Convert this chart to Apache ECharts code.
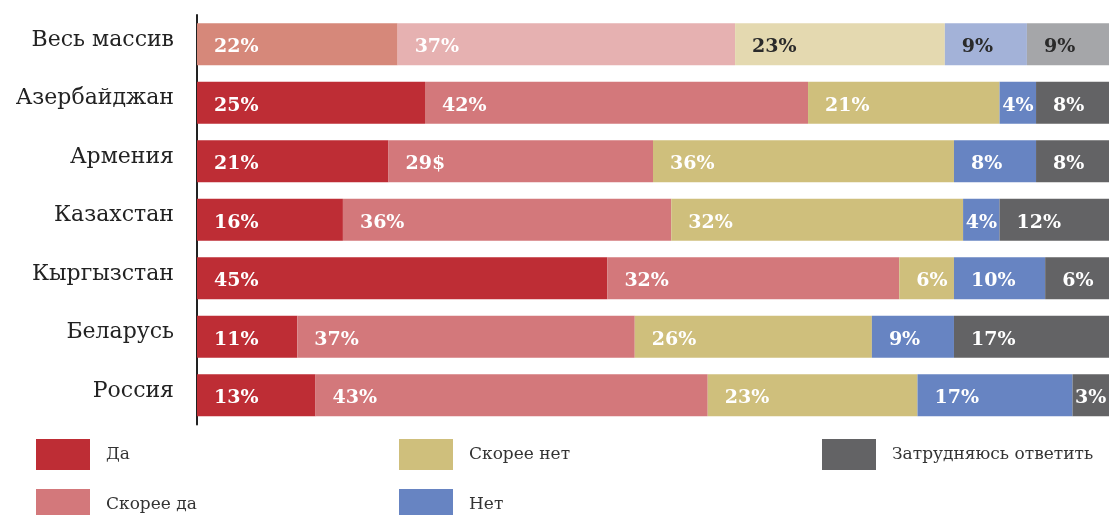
<!DOCTYPE html>
<html>
<head>
<meta charset="utf-8">
<script src="https://cdn.jsdelivr.net/npm/echarts@6/dist/echarts.min.js"></script>
<style>
html,body{margin:0;padding:0;background:#fff;}
#c{width:1112px;height:515px;}
</style>
</head>
<body>
<div id="c"></div>
<script>
// Categories (top to bottom)
var categories = ['Весь массив', 'Азербайджан', 'Армения', 'Казахстан', 'Кыргызстан', 'Беларусь', 'Россия'];
var seriesNames = ['Да', 'Скорее да', 'Скорее нет', 'Нет', 'Затрудняюсь ответить'];

// Bar lengths (percent)
var da        = [22, 25, 21, 16, 45, 11, 13];
var skoreeDa  = [37, 42, 29, 36, 32, 37, 43];
var skoreeNet = [23, 21, 33, 32, 6, 26, 23];
var net       = [9, 4, 9, 4, 10, 9, 17];
var zatr      = [9, 8, 8, 12, 7, 17, 4];

// Printed labels (as shown in the original)
var daLabels        = ['22%', '25%', '21%', '16%', '45%', '11%', '13%'];
var skoreeDaLabels  = ['37%', '42%', '29$', '36%', '32%', '37%', '43%'];
var skoreeNetLabels = ['23%', '21%', '36%', '32%', '6%', '26%', '23%'];
var netLabels       = ['9%', '4%', '8%', '4%', '10%', '9%', '17%'];
var zatrLabels      = ['9%', '8%', '8%', '12%', '6%', '17%', '3%'];

var colors      = ['#be2d35', '#d3787b', '#cfbf7c', '#6784c2', '#636365'];
var lightColors = ['#d6887a', '#e6b1b1', '#e4d9b0', '#a3b2d8', '#a5a6a9'];
var lightLabelColors = ['#ffffff', '#ffffff', '#2a2a2a', '#2a2a2a', '#2a2a2a'];

var values = [da, skoreeDa, skoreeNet, net, zatr];
var labels = [daLabels, skoreeDaLabels, skoreeNetLabels, netLabels, zatrLabels];

var serif = '"DejaVu Serif", "Liberation Serif", serif';

var series = seriesNames.map(function (name, si) {
  return {
    name: name,
    type: 'bar',
    stack: 'total',
    barWidth: 42,
    itemStyle: { color: colors[si] },
    emphasis: { disabled: true },
    data: values[si].map(function (v, ci) {
      var item = {
        value: v,
        label: {
          show: true,
          position: v < 5 ? 'inside' : 'insideLeft',
          distance: 17,
          offset: [0, 3],
          formatter: labels[si][ci],
          color: ci === 0 ? lightLabelColors[si] : '#ffffff',
          fontFamily: serif,
          fontWeight: 'bold',
          fontSize: 19
        }
      };
      if (ci === 0) {
        item.itemStyle = { color: lightColors[si] };
      }
      return item;
    })
  };
});

function legendAt(name, left, top) {
  return {
    orient: 'horizontal',
    left: left,
    top: top,
    padding: 0,
    itemWidth: 54,
    itemHeight: 31,
    itemGap: 10,
    icon: 'rect',
    selectedMode: false,
    data: [name],
    textStyle: { fontFamily: serif, fontSize: 17, color: '#333', padding: [0, 0, 0, 11] }
  };
}

var option = {
  animation: false,
  grid: { left: 197, right: 3, top: 15, bottom: 90.5, containLabel: false },
  xAxis: {
    type: 'value', min: 0, max: 100,
    show: false
  },
  yAxis: {
    type: 'category',
    data: categories,
    inverse: true,
    axisLine: { show: true, lineStyle: { color: '#222', width: 2 } },
    axisTick: { show: false },
    axisLabel: {
      margin: 23,
      formatter: function (v) { return '{a|' + v + '}'; },
      rich: {
        a: {
          fontFamily: serif,
          fontSize: 22,
          color: '#222',
          padding: [0, 0, 8, 0]
        }
      }
    }
  },
  legend: [
    legendAt('Да', 36, 439),
    legendAt('Скорее да', 36, 489),
    legendAt('Скорее нет', 399, 439),
    legendAt('Нет', 399, 489),
    legendAt('Затрудняюсь ответить', 822, 439)
  ],
  series: series
};

var chart = echarts.init(document.getElementById('c'), null, { renderer: 'canvas' });
chart.setOption(option);
</script>
</body>
</html>
